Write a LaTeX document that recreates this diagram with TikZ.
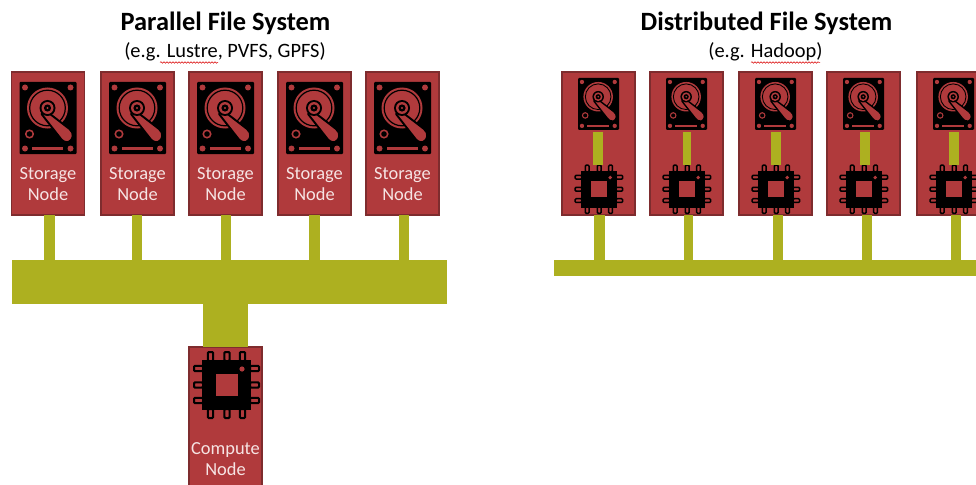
\documentclass[tikz,border=0pt]{standalone}
\usepackage{fontspec}
\setmainfont{Carlito}
\usetikzlibrary{decorations.pathmorphing}
\definecolor{nodered}{HTML}{B03A3C}
\definecolor{nodeedge}{HTML}{7E2C2E}
\definecolor{olive}{HTML}{ADB020}
\definecolor{labelpink}{HTML}{F6E4E4}
\tikzset{
  box/.style={draw=nodeedge,fill=nodered,line width=1.2pt,minimum width=73pt,minimum height=143pt,inner sep=0pt,outer sep=0pt},
  cbox/.style={box,minimum height=160pt},
  bus/.style={fill=olive,draw=none,inner sep=0pt,outer sep=0pt},
  link/.style={olive,line cap=butt},
  nodetxt/.style={text=labelpink,font=\fontsize{18.4}{21}\selectfont,align=center,inner sep=0pt},
  title/.style={font=\bfseries\fontsize{26.4}{30}\selectfont,inner sep=0pt},
  subtitle/.style={font=\fontsize{20.4}{24}\selectfont,inner sep=0pt},
  spell/.style={red!85!black,line width=0.5pt,decorate,decoration={snake,amplitude=0.8pt,segment length=3pt}}
}
% icon: top-left x, y, scale
\newcommand{\hddicon}[3]{%
  \begin{scope}[shift={(#1,#2)},scale=#3]
    \fill[black,rounded corners=1pt] (0,0) rectangle (57,72);
    \foreach \hx/\hy in {5.5/5.5,51/5.5,5.5/66.5,51/66.5}
      \fill[nodered] (\hx,\hy) circle (3);
    \fill[nodered] (28,26) circle (20.5);
    \draw[black,line width=#3*1.2pt] (28,26) circle (17.8);
    \fill[nodered] (10,52) circle (4.6);
    \fill[black] (10,52) circle (2.8);
    \fill[nodered] (12.5,64.6) rectangle (43.5,68.2);
    \draw[black,line width=#3*1.9pt,fill=nodered,line join=round]
      (22,32) -- (26,28.5) -- (50,47) .. controls (55,51) and (54,58) .. (49,60) .. controls (45,61) and (42,58) .. (40,55) -- cycle;
    \fill[black] (28,26) circle (8);
    \fill[nodered] (28,26) circle (6);
    \fill[black] (28,26) circle (3.6);
    \fill[nodered] (28,26) circle (1.2);
  \end{scope}}
\newcommand{\chipicon}[3]{%
  \begin{scope}[shift={(#1,#2)},scale=#3]
    \foreach \p in {8.5,25,40.5} {
      \draw[black,fill=nodered,line width=#3*2pt,rounded corners=1pt] (\p-2.6,-8) rectangle (\p+2.6,1);
      \draw[black,fill=nodered,line width=#3*2pt,rounded corners=1pt] (\p-2.6,49) rectangle (\p+2.6,58);
      \draw[black,fill=nodered,line width=#3*2pt,rounded corners=1pt] (-8,\p-2.6) rectangle (1,\p+2.6);
      \draw[black,fill=nodered,line width=#3*2pt,rounded corners=1pt] (48,\p-2.6) rectangle (57,\p+2.6);
    }
    \fill[black] (0,0) rectangle (49,50);
    \fill[nodered] (13.5,14) rectangle (36,36);
    \fill[nodered] (40,9) circle (2.6);
  \end{scope}}
\begin{document}
\begin{tikzpicture}[x=1pt,y=-1pt]
  \clip (0,0) rectangle (976,484);
  \fill[white] (0,0) rectangle (976,484);

  % titles
  \node[title] (t1) at (225.5,23.5) {Parallel File System};
  \node[subtitle] (t1s) at (225,51.5) {(e.g. Lustre, PVFS, GPFS)};
  \node[title] (t2) at (766.5,23.5) {Distributed File System};
  \node[subtitle] (t2s) at (765.5,51.5) {(e.g. Hadoop)};
  \coordinate (sq1a) at (160,62.5); \coordinate (sq1b) at (218,62.5);
  \coordinate (sq2a) at (751,62.5); \coordinate (sq2b) at (820,62.5);
  \draw[spell] (sq1a) -- (sq1b);
  \draw[spell] (sq2a) -- (sq2b);

  % buses
  \node[bus,minimum width=435pt,minimum height=44pt] (busa) at (229.5,282) {};
  \node[bus,minimum width=422pt,minimum height=16pt] (busb) at (765,268) {};

  % parallel FS storage nodes
  \foreach \n/\cx/\off in {1/48/1.5,2/137.5/-0.5,3/225.5/0.5,4/314.5/0,5/402.5/1.5} {
    \node[box] (s\n) at (\cx,143.5) {};
    \draw[link,line width=10.5pt] ([xshift=\off pt]s\n.south) -- ([xshift=\off pt]s\n.south |- busa.north);
    \hddicon{\cx-28.5}{82}{1}
    \node[nodetxt] (s\n t) at (\cx,184) {Storage\\Node};
  }

  % compute node
  \node[cbox,anchor=north] (comp) at (225.5,347) {};
  \draw[link,line width=45pt] (busa.south -| comp.north) -- (comp.north);
  \chipicon{202}{360}{1}
  \node[nodetxt] (compt) at (225.5,459.5) {Compute\\Node};

  % distributed FS nodes
  \foreach \n/\cx/\off/\w/\iw in {1/598.5/1/10.5/10.5,2/686.5/2/9.5/8.5,3/775.5/2/10/9.5,4/863.5/3/10/9.5,5/953.5/2/10/9.5} {
    \node[box] (d\n) at (\cx,143.5) {};
    \draw[link,line width=\w pt] ([xshift=\off pt]d\n.south) -- ([xshift=\off pt]d\n.south |- busb.north);
    \hddicon{\cx-20.5}{78}{0.72}
    \chipicon{\cx-17.5}{171}{0.73}
    \coordinate (hb\n) at (\cx,132);
    \coordinate (ct\n) at (\cx,165);
    \draw[link,line width=\iw pt] ([xshift=\off pt-1.5pt]hb\n) -- ([xshift=\off pt-1.5pt]ct\n);
  }
\end{tikzpicture}
\end{document}
